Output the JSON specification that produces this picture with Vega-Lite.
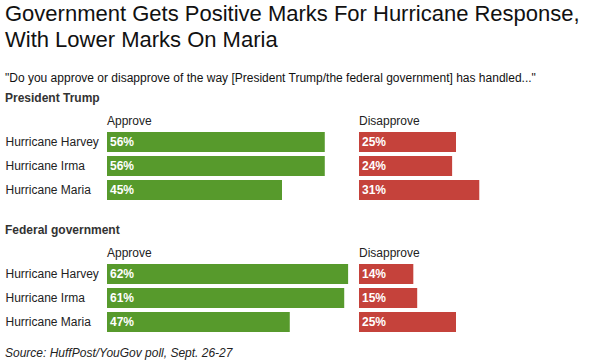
{
  "$schema": "https://vega.github.io/schema/vega-lite/v6.json",
  "background": "white",
  "padding": {"left": 5, "top": 3, "right": 5, "bottom": 2},
  "config": {
    "font": "Liberation Sans",
    "view": {"stroke": null},
    "concat": {"spacing": 0}
  },
  "title": {
    "text": ["Government Gets Positive Marks For Hurricane Response,", "With Lower Marks On Maria"],
    "subtitle": "\"Do you approve or disapprove of the way [President Trump/the federal government] has handled...\"",
    "anchor": "start",
    "frame": "bounds",
    "fontSize": 22,
    "fontWeight": "normal",
    "lineHeight": 26,
    "color": "#111111",
    "subtitleFontSize": 12,
    "subtitleColor": "#111111",
    "subtitlePadding": 21,
    "offset": 7
  },
  "datasets": {
    "trump": [
      {"hurricane": "Hurricane Harvey", "approve": 0.56, "disapprove": 0.25},
      {"hurricane": "Hurricane Irma", "approve": 0.56, "disapprove": 0.24},
      {"hurricane": "Hurricane Maria", "approve": 0.45, "disapprove": 0.31}
    ],
    "fed": [
      {"hurricane": "Hurricane Harvey", "approve": 0.62, "disapprove": 0.14},
      {"hurricane": "Hurricane Irma", "approve": 0.61, "disapprove": 0.15},
      {"hurricane": "Hurricane Maria", "approve": 0.47, "disapprove": 0.25}
    ]
  },
  "vconcat": [
    {
      "title": {
        "text": "Source: HuffPost/YouGov poll, Sept. 26-27",
        "orient": "bottom",
        "anchor": "start",
        "frame": "bounds",
        "fontSize": 12,
        "fontStyle": "italic",
        "fontWeight": "normal",
        "color": "#222222",
        "baseline": "alphabetic",
        "offset": 23
      },
      "spacing": 22,
      "vconcat": [
        {
          "title": {"text": "President Trump", "anchor": "start", "frame": "bounds", "fontSize": 12, "fontWeight": "bold", "color": "#333333", "baseline": "alphabetic", "offset": 1},
          "spacing": 0,
          "hconcat": [
            {
              "data": {"name": "trump"},
              "width": 252,
              "height": 72,
              "title": {"text": "Approve", "anchor": "start", "frame": "group", "fontSize": 12, "fontWeight": "normal", "color": "#222222", "baseline": "alphabetic", "offset": -7},
              "encoding": {
                "y": {"field": "hurricane", "type": "nominal", "sort": null, "scale": {"paddingInner": 0.1667, "paddingOuter": 0.0833},
                  "axis": {"title": null, "ticks": false, "domain": false, "labelAlign": "left", "labelPadding": 102, "labelFontSize": 12, "labelColor": "#222222", "labelLimit": 0}}
              },
              "layer": [
                {"mark": {"type": "bar", "color": "#579a2c"}, "encoding": {"x": {"field": "approve", "type": "quantitative", "scale": {"domain": [0, 0.648], "nice": false}, "axis": null}}},
                {"mark": {"type": "text", "align": "left", "dx": 3, "color": "white", "fontWeight": "bold", "fontSize": 12}, "encoding": {"x": {"datum": 0, "type": "quantitative"}, "text": {"field": "approve", "type": "quantitative", "format": ".0%"}}}
              ]
            },
            {
              "data": {"name": "trump"},
              "width": 194,
              "height": 72,
              "title": {"text": "Disapprove", "anchor": "start", "frame": "group", "fontSize": 12, "fontWeight": "normal", "color": "#222222", "baseline": "alphabetic", "offset": -7},
              "encoding": {
                "y": {"field": "hurricane", "type": "nominal", "sort": null, "scale": {"paddingInner": 0.1667, "paddingOuter": 0.0833}, "axis": null}
              },
              "layer": [
                {"mark": {"type": "bar", "color": "#c5423b"}, "encoding": {"x": {"field": "disapprove", "type": "quantitative", "scale": {"domain": [0, 0.5], "nice": false}, "axis": null}}},
                {"mark": {"type": "text", "align": "left", "dx": 3, "color": "white", "fontWeight": "bold", "fontSize": 12}, "encoding": {"x": {"datum": 0, "type": "quantitative"}, "text": {"field": "disapprove", "type": "quantitative", "format": ".0%"}}}
              ]
            }
          ]
        },
        {
          "title": {"text": "Federal government", "anchor": "start", "frame": "bounds", "fontSize": 12, "fontWeight": "bold", "color": "#333333", "baseline": "alphabetic", "offset": 1},
          "spacing": 0,
          "hconcat": [
            {
              "data": {"name": "fed"},
              "width": 252,
              "height": 72,
              "title": {"text": "Approve", "anchor": "start", "frame": "group", "fontSize": 12, "fontWeight": "normal", "color": "#222222", "baseline": "alphabetic", "offset": -7},
              "encoding": {
                "y": {"field": "hurricane", "type": "nominal", "sort": null, "scale": {"paddingInner": 0.1667, "paddingOuter": 0.0833},
                  "axis": {"title": null, "ticks": false, "domain": false, "labelAlign": "left", "labelPadding": 102, "labelFontSize": 12, "labelColor": "#222222", "labelLimit": 0}}
              },
              "layer": [
                {"mark": {"type": "bar", "color": "#579a2c"}, "encoding": {"x": {"field": "approve", "type": "quantitative", "scale": {"domain": [0, 0.648], "nice": false}, "axis": null}}},
                {"mark": {"type": "text", "align": "left", "dx": 3, "color": "white", "fontWeight": "bold", "fontSize": 12}, "encoding": {"x": {"datum": 0, "type": "quantitative"}, "text": {"field": "approve", "type": "quantitative", "format": ".0%"}}}
              ]
            },
            {
              "data": {"name": "fed"},
              "width": 194,
              "height": 72,
              "title": {"text": "Disapprove", "anchor": "start", "frame": "group", "fontSize": 12, "fontWeight": "normal", "color": "#222222", "baseline": "alphabetic", "offset": -7},
              "encoding": {
                "y": {"field": "hurricane", "type": "nominal", "sort": null, "scale": {"paddingInner": 0.1667, "paddingOuter": 0.0833}, "axis": null}
              },
              "layer": [
                {"mark": {"type": "bar", "color": "#c5423b"}, "encoding": {"x": {"field": "disapprove", "type": "quantitative", "scale": {"domain": [0, 0.5], "nice": false}, "axis": null}}},
                {"mark": {"type": "text", "align": "left", "dx": 3, "color": "white", "fontWeight": "bold", "fontSize": 12}, "encoding": {"x": {"datum": 0, "type": "quantitative"}, "text": {"field": "disapprove", "type": "quantitative", "format": ".0%"}}}
              ]
            }
          ]
        }
      ]
    }
  ]
}
